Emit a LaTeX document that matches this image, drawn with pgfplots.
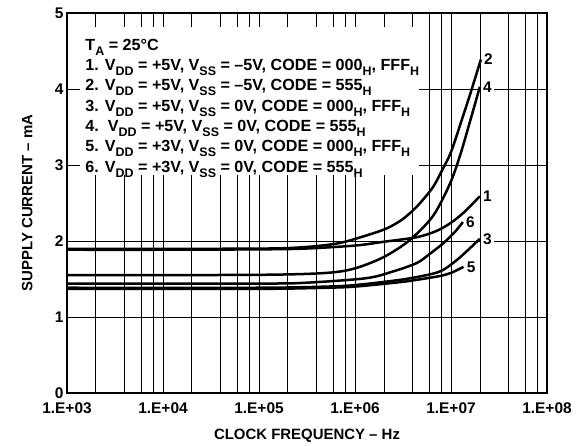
\documentclass[border=0pt]{standalone}
\usepackage{fontspec}
\setmainfont{Liberation Sans}
\usepackage{pgfplots}
\pgfplotsset{compat=1.18}
\newcommand{\sub}[1]{\raisebox{-0.3em}{\fontsize{12.5}{12.5}\selectfont #1}}
\tikzset{lab/.style={anchor=west, fill=white, inner sep=2bp, font=\fontsize{15.5}{15.5}\selectfont\bfseries}}
\pgfplotsset{curve/.style={black, line width=2.5bp, smooth, no markers}}
\begin{document}
\begin{tikzpicture}
\path[draw=none] (-67bp,-49bp) rectangle (517bp,393bp);
\begin{axis}[
  at={(0bp,0bp)}, anchor=south west,
  set layers,
  scale only axis, width=480bp, height=380bp,
  xmode=log, xmin=1e3, xmax=1e8, ymin=0, ymax=5,
  xtick={1e3,1e4,1e5,1e6,1e7,1e8},
  xticklabels={1.E+03,1.E+04,\raisebox{-5bp}{1.E+05},1.E+06,1.E+07,1.E+08},
  minor xtick={2e3,4e3,6e3,8e3,2e4,4e4,6e4,8e4,2e5,4e5,6e5,8e5,2e6,4e6,6e6,8e6,2e7,4e7,6e7,8e7},
  ytick={0,1,2,3,4,5},
  grid=both,
  major grid style={black, line width=0.8bp},
  minor grid style={black, line width=0.8bp},
  tick align=inside, major tick length=14bp, minor tick length=14bp,
  tick style={black, line width=0.8bp},
  axis line style={line width=1.5bp},
  /pgf/number format/assume math mode=true,
  ticklabel style={font=\fontsize{15.5}{15.5}\selectfont\bfseries},
  xticklabel style={yshift=-6bp},
  xlabel={CLOCK FREQUENCY – Hz},
  ylabel={SUPPLY CURRENT – mA},
  label style={font=\fontsize{15}{15}\selectfont\bfseries},
  xlabel style={at={(axis description cs:0.5,-0.113)}, anchor=center},
  ylabel style={at={(axis description cs:-0.083,0.5)}, anchor=center, rotate=0},
]
\fill[white] (axis cs:1.37e3,2.87) rectangle (axis cs:4.6e6,4.82);
\node[anchor=north west, align=left, inner sep=0pt, font=\fontsize{16.2}{20.4}\selectfont\bfseries]
  at (axis cs:1.55e3,4.66) {T\sub{A} = 25°C\\
1. V\sub{DD} = +5V, V\sub{SS} = –5V, CODE = 000\sub{H}, FFF\sub{H}\\
2. V\sub{DD} = +5V, V\sub{SS} = –5V, CODE = 555\sub{H}\\
3. V\sub{DD} = +5V, V\sub{SS} = 0V, CODE = 000\sub{H}, FFF\sub{H}\\
4.\ \ V\sub{DD} = +5V, V\sub{SS} = 0V, CODE = 555\sub{H}\\
5. V\sub{DD} = +3V, V\sub{SS} = 0V, CODE = 000\sub{H}, FFF\sub{H}\\
6. V\sub{DD} = +3V, V\sub{SS} = 0V, CODE = 555\sub{H}};
% curve 1
\addplot[curve] coordinates {(1e3,1.885) (1e4,1.885) (1e5,1.89) (3e5,1.90) (1e6,1.94) (2e6,1.99) (4.4e6,2.05) (7e6,2.13) (1e7,2.24) (1.4e7,2.39) (2e7,2.59)}
  node[pos=1, lab] {1};
% curve 2
\addplot[curve] coordinates {(1e3,1.895) (1e5,1.90) (3e5,1.92) (6e5,1.96) (9e5,2.01) (2e6,2.15) (3e6,2.27) (4e6,2.40) (5e6,2.53) (6.5e6,2.71) (8e6,2.92) (1e7,3.17) (1.3e7,3.6) (1.6e7,3.95) (2.05e7,4.39)}
  node[pos=1, lab] {2};
% curve 3
\addplot[curve] coordinates {(1e3,1.385) (1e5,1.385) (5e5,1.40) (1e6,1.42) (3e6,1.49) (6e6,1.56) (8.3e6,1.62) (1.15e7,1.75) (1.5e7,1.88) (2e7,2.03)}
  node[pos=1, lab] {3};
% curve 4
\addplot[curve] coordinates {(1e3,1.55) (1e5,1.555) (5e5,1.58) (1e6,1.64) (2e6,1.79) (3.7e6,2.01) (6.5e6,2.33) (9.8e6,2.76) (1.26e7,3.15) (1.6e7,3.6) (2e7,4.03)}
  node[pos=1, lab] {4};
% curve 5
\addplot[curve] coordinates {(1e3,1.37) (1e5,1.37) (5e5,1.385) (1e6,1.40) (3e6,1.46) (5e6,1.50) (7.7e6,1.54) (1e7,1.58) (1.35e7,1.66)}
  node[pos=1, lab] {5};
% curve 6
\addplot[curve] coordinates {(1e3,1.44) (1e5,1.44) (3e5,1.45) (1.3e6,1.51) (2.5e6,1.60) (4.4e6,1.71) (6e6,1.83) (8.3e6,1.97) (1.1e7,2.12) (1.33e7,2.25)}
  node[pos=1, lab] {6};
\end{axis}
\end{tikzpicture}
\end{document}
